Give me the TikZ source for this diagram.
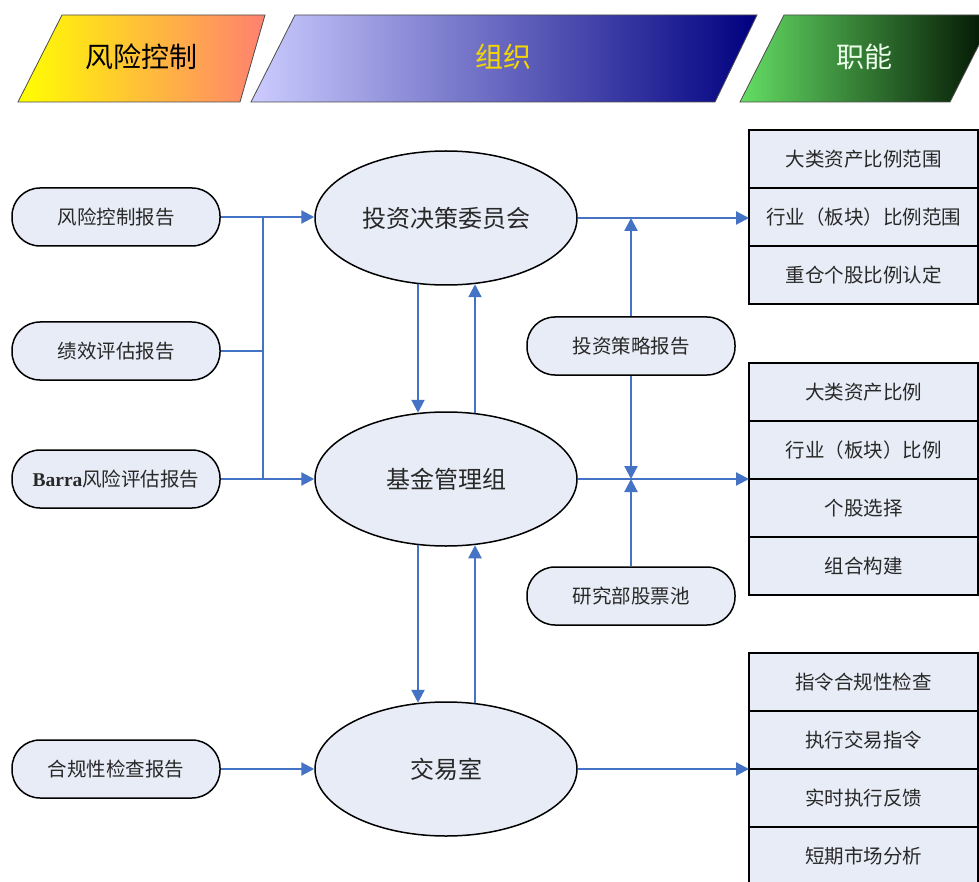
\documentclass[tikz,border=0pt]{standalone}
\usepackage{fontspec}
\newfontfamily\cjk{Noto Sans CJK SC}
\newfontfamily\latserif{Liberation Serif}
\usetikzlibrary{shapes.geometric,arrows.meta,calc}
\definecolor{boxfill}{RGB}{232,236,246}
\definecolor{arrowblue}{RGB}{68,114,196}
\definecolor{txtgray}{RGB}{40,40,40}
\definecolor{salmon}{RGB}{255,128,112}
\definecolor{lav}{RGB}{204,204,255}
\definecolor{navyb}{RGB}{0,0,128}
\definecolor{lgreen}{RGB}{100,222,100}
\definecolor{dgreen}{RGB}{0,16,0}
\definecolor{goldtxt}{RGB}{245,215,0}
\tikzset{
  pill/.style={draw=black, line width=1.5pt, fill=boxfill, rounded corners=28pt,
    minimum width=208pt, minimum height=58pt, inner sep=0pt, text=txtgray,
    font=\cjk\fontsize{19.5}{22}\selectfont},
  oval/.style={draw=black, line width=1.5pt, fill=boxfill, ellipse,
    minimum width=262pt, minimum height=134pt, inner sep=0pt, text=txtgray,
    font=\cjk\fontsize{24}{26}\selectfont},
  cell/.style={draw=black, line width=1.6pt, fill=boxfill, minimum width=229pt,
    minimum height=58pt, inner sep=0pt, outer sep=0pt, anchor=north west, text=txtgray,
    font=\cjk\fontsize{19.5}{22}\selectfont},
  conn/.style={draw=arrowblue, line width=2.2pt},
  arr/.style={conn, -{Triangle[length=13pt,width=13pt]}},
  banner/.style={draw=gray!60!black, line width=0.8pt},
  bannertext/.style={font=\cjk\fontsize{28}{30}\selectfont}
}
\begin{document}
\begin{tikzpicture}[x=1pt,y=-1pt]
\useasboundingbox (0,0) rectangle (979,882);
\clip (0,0) rectangle (979,882);
\fill[white] (0,0) rectangle (979,882);
% banners
\shade[left color=yellow, right color=salmon] (62,15) -- (265,15) -- (240,102) -- (18,102) -- cycle;
\draw[banner] (62,15) -- (265,15) -- (240,102) -- (18,102) -- cycle;
\shade[left color=lav, right color=navyb] (295,15) -- (757,15) -- (715,102) -- (251,102) -- cycle;
\draw[banner] (295,15) -- (757,15) -- (715,102) -- (251,102) -- cycle;
\shade[left color=lgreen, right color=dgreen] (784,15) -- (994,15) -- (950,102) -- (740,102) -- cycle;
\draw[banner] (784,15) -- (994,15) -- (950,102) -- (740,102) -- cycle;
\node[bannertext, text=black] (h1) at (141,57) {风险控制};
\node[bannertext, text=goldtxt] (h2) at (503,57) {组织};
\node[bannertext, text=white!92!green] (h3) at (864,57) {职能};
% left pills
\node[pill] (l1) at (116,217) {风险控制报告};
\node[pill] (l2) at (116,351) {绩效评估报告};
\node[pill] (l3) at (116,479) {{\latserif\bfseries Barra}风险评估报告};
\node[pill] (l4) at (116,769) {合规性检查报告};
% ellipses
\node[oval] (e1) at (446,218) {投资决策委员会};
\node[oval] (e2) at (446,479) {基金管理组};
\node[oval] (e3) at (446,769) {交易室};
% middle pills
\node[pill] (s1) at (631,346) {投资策略报告};
\node[pill] (s2) at (631,596) {研究部股票池};
% right cells
\node[cell] (r11) at (749,130) {大类资产比例范围};
\node[cell] (r12) at (749,188) {行业（板块）比例范围};
\node[cell] (r13) at (749,246) {重仓个股比例认定};
\node[cell] (r21) at (749,363) {大类资产比例};
\node[cell] (r22) at (749,421) {行业（板块）比例};
\node[cell] (r23) at (749,479) {个股选择};
\node[cell] (r24) at (749,537) {组合构建};
\node[cell] (r31) at (749,653) {指令合规性检查};
\node[cell] (r32) at (749,711) {执行交易指令};
\node[cell] (r33) at (749,769) {实时执行反馈};
\node[cell] (r34) at (749,827) {短期市场分析};
% left connectors
\coordinate (b1) at (263,217);
\coordinate (b3) at (263,479);
\draw[arr] (l1.east) -- (l1.east -| e1.west);
\draw[arr] (l3.east) -- (l3.east -| e2.west);
\draw[conn] (b1) -- (b3);
\draw[conn] (l2.east) -- (l2.east -| b1);
\draw[arr] (l4.east) -- (l4.east -| e3.west);
% ellipse to ellipse
\draw[arr] ($(e1.south)+(-28,-2)$) -- ($(e2.north)+(-28,1.5)$);
\draw[arr] ($(e2.north)+(29,2)$) -- ($(e1.south)+(29,-1.5)$);
\draw[arr] ($(e2.south)+(-28,-2)$) -- ($(e3.north)+(-28,1.5)$);
\draw[arr] ($(e3.north)+(29,2)$) -- ($(e2.south)+(29,-1.5)$);
% right connectors
\coordinate (c1) at (r12.west);
\coordinate (c2) at (e2.east -| r23.west);
\coordinate (c3) at (e3.east -| r33.west);
\draw[arr] (e1.east) -- (e1.east -| c1);
\draw[arr] (e2.east) -- (c2);
\draw[arr] (e3.east) -- (c3);
\draw[arr] (s1.north) -- (s1.north |- e1.east);
\draw[arr] (s1.south) -- (s1.south |- e2.east);
\draw[arr] (s2.north) -- (s2.north |- e2.east);
\end{tikzpicture}
\end{document}
